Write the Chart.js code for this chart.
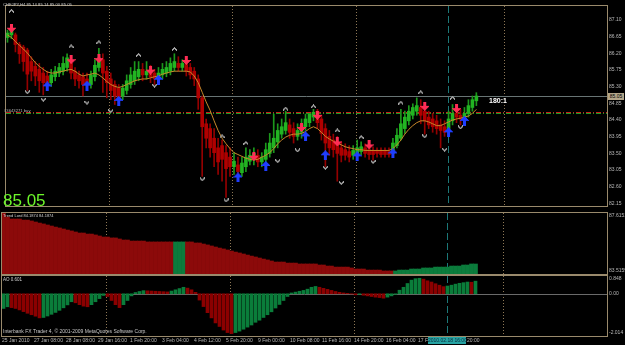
<!DOCTYPE html>
<html><head><meta charset="utf-8">
<script src="https://cdn.jsdelivr.net/npm/chart.js@4.4.1/dist/chart.umd.min.js"></script>
<style>
html,body{margin:0;padding:0;background:#000;width:625px;height:345px;overflow:hidden;}
canvas{position:absolute;left:0;}
.t{position:absolute;white-space:nowrap;font-family:"Liberation Sans",Arial,sans-serif;line-height:1;}
</style></head><body>
<canvas id="main" width="625" height="212" style="top:0"></canvas>
<canvas id="trend" width="625" height="63" style="top:212px"></canvas>
<canvas id="ao" width="625" height="70" style="top:275px"></canvas>

<div class="t" style="left:3px;top:3px;font-size:4.2px;color:#d0d0d0">CHFJPY,H4 85.14 85.14 85.00 85.05</div>
<div class="t" style="left:4px;top:109px;font-size:4.2px;color:#b0b0b0">#3643271 buy</div>
<div class="t" style="left:3px;top:192px;font-size:17px;color:#6cf52a">85.05</div>
<div class="t" style="left:489px;top:97px;font-size:7px;font-weight:bold;color:#ffffff">180:1</div>
<div class="t" style="left:608px;top:93px;width:16px;height:7px;font-size:5px;line-height:7px;background:#b4a68a;color:#000;text-align:center">85.05</div>
<div class="t" style="left:3px;top:214px;font-size:4px;color:#d0d0d0">Trend Lord 84.1874 84.1874</div>
<div class="t" style="left:3px;top:277.5px;font-size:4.5px;color:#d0d0d0">AO 0.601</div>
<div class="t" style="left:3px;top:328.5px;font-size:5px;color:#c8c8c8">Interbank FX Trader 4, © 2001-2009 MetaQuotes Software Corp.</div>
<div class="t" style="left:428px;top:337px;width:38px;height:7px;font-size:5px;line-height:7px;background:#26a3a3;color:#0a2a3a;text-align:center">2010.02.18 16:00</div>

<script>
// ---------------- DATA ----------------
const priceOpen = [
86.63,86.70,86.70,86.44,86.37,86.29,85.98,85.85,85.77,85.67,
85.59,85.41,85.57,85.67,85.72,85.82,85.93,85.72,85.62,85.57,
85.51,85.36,85.57,85.82,86.03,85.72,85.51,85.36,85.26,85.05,
85.20,85.36,85.46,85.57,85.77,85.62,85.72,85.67,85.57,85.62,
85.67,85.72,85.82,85.93,85.82,85.90,85.82,85.72,85.51,85.00,
84.30,84.17,83.91,83.65,83.71,83.52,83.40,83.14,83.19,82.98,
83.14,83.29,83.34,83.45,83.27,83.34,83.50,83.65,83.81,84.02,
84.12,84.27,84.17,83.96,84.07,84.22,84.33,84.48,84.64,84.43,
84.17,83.96,83.86,83.76,83.65,83.60,83.55,83.45,83.50,83.55,
83.65,83.60,83.58,83.58,83.58,83.58,83.55,83.50,83.71,83.91,
84.17,84.38,84.53,84.64,84.74,84.64,84.48,84.43,84.38,84.27,
84.22,84.17,84.38,84.58,84.53,84.43,84.58,84.74,84.92];
const priceHigh = [
86.83,86.88,86.75,86.50,86.42,86.34,86.11,85.98,85.93,85.82,
85.72,85.77,85.85,85.93,86.11,86.19,86.03,85.82,85.72,85.67,
85.67,85.72,86.03,86.34,86.19,85.85,85.67,85.46,85.36,85.36,
85.62,85.82,85.98,85.98,85.93,85.98,85.88,85.77,85.82,85.93,
85.98,86.08,86.19,86.11,86.03,85.98,85.93,85.82,85.62,85.05,
84.43,84.30,84.17,83.91,83.86,83.71,83.65,83.52,83.40,83.40,
83.65,83.60,83.65,83.60,83.52,83.78,84.04,84.56,84.30,84.43,
84.64,84.43,84.33,84.30,84.43,84.56,84.58,84.69,84.69,84.53,
84.30,84.12,84.02,83.96,83.81,83.76,83.71,83.71,83.86,83.81,
83.76,83.71,83.68,83.65,83.65,83.65,83.65,83.91,84.17,84.69,
84.64,84.79,84.84,85.00,84.95,84.79,84.64,84.58,84.53,84.43,
84.38,84.64,84.82,84.74,84.69,84.74,84.95,85.05,85.14];
const priceLow = [
86.50,86.60,86.24,85.93,85.72,85.20,85.46,85.33,85.15,85.08,
85.20,85.31,85.46,85.57,85.62,85.72,85.51,85.33,85.26,85.05,
85.26,85.26,85.46,85.72,85.15,85.00,84.95,84.82,84.84,84.95,
85.10,85.26,85.36,85.46,85.46,85.51,85.41,85.36,85.46,85.51,
85.57,85.62,85.72,85.72,85.72,85.59,85.51,85.33,84.69,82.88,
83.65,83.40,83.14,82.93,82.75,82.31,82.88,82.93,82.83,82.88,
83.01,83.19,83.19,83.14,83.14,83.19,83.40,83.52,83.65,83.91,
84.02,83.91,83.78,83.86,83.91,84.12,84.22,84.38,84.17,83.86,
83.14,83.45,83.40,82.75,83.27,83.32,83.27,83.34,83.45,83.45,
83.40,83.34,83.32,83.40,83.40,83.40,83.40,83.45,83.65,83.86,
84.04,84.27,84.43,84.53,84.30,84.02,84.17,84.07,84.02,83.65,
83.96,84.07,84.27,84.33,84.27,84.33,84.48,84.64,84.79];
const priceClose = [
86.75,86.81,86.44,86.19,85.98,85.64,85.72,85.59,85.46,85.41,
85.36,85.62,85.72,85.82,85.93,86.08,85.67,85.51,85.46,85.36,
85.36,85.62,85.88,86.08,85.67,85.41,85.20,85.05,85.00,85.26,
85.46,85.62,85.72,85.77,85.62,85.72,85.57,85.51,85.67,85.77,
85.82,85.93,85.98,85.82,85.93,85.72,85.62,85.51,85.00,84.22,
83.91,83.65,83.52,83.27,83.34,83.09,83.14,83.29,83.01,83.24,
83.40,83.45,83.50,83.27,83.40,83.60,83.78,83.91,84.12,84.22,
84.33,84.07,83.96,84.12,84.27,84.43,84.56,84.61,84.33,84.04,
83.78,83.65,83.60,83.50,83.45,83.45,83.40,83.58,83.65,83.68,
83.50,83.47,83.47,83.50,83.47,83.47,83.47,83.78,83.99,84.30,
84.48,84.64,84.74,84.79,84.53,84.38,84.27,84.22,84.17,84.12,
84.07,84.43,84.58,84.48,84.43,84.58,84.79,84.95,85.05];
const maValues = [
86.70,86.63,86.52,86.42,86.32,86.21,86.08,85.95,85.85,85.77,
85.70,85.67,85.67,85.70,85.72,85.75,85.77,85.72,85.64,85.59,
85.62,85.64,85.67,85.62,85.54,85.44,85.36,85.31,85.28,85.31,
85.36,85.41,85.46,85.49,85.51,85.51,85.54,85.57,85.59,85.64,
85.67,85.70,85.72,85.72,85.72,85.72,85.70,85.59,85.41,85.15,
84.89,84.66,84.38,84.12,83.91,83.76,83.63,83.52,83.47,83.42,
83.37,83.34,83.32,83.34,83.40,83.45,83.52,83.63,83.76,83.86,
83.94,83.99,84.02,84.02,84.04,84.09,84.17,84.22,84.17,84.07,
83.96,83.89,83.83,83.78,83.73,83.68,83.65,83.63,83.60,83.60,
83.58,83.58,83.58,83.58,83.58,83.58,83.58,83.63,83.73,83.86,
84.02,84.15,84.25,84.33,84.38,84.38,84.35,84.30,84.25,84.25,
84.30,84.35,84.40,84.43,84.45,84.48,84.51,84.58,84.69];
const downArrowBars   = [1,16,23,36,45,62,74,78,83,91,105,113];
const downArrowPrices = [86.88,86.03,86.06,85.75,86.01,83.42,84.20,84.53,83.81,83.73,84.77,84.71];
const upArrowBars     = [10,20,28,38,58,65,75,80,88,97,111,115];
const upArrowPrices   = [85.31,85.33,84.92,85.49,82.85,83.16,83.96,83.45,83.42,83.50,84.07,84.38];
const fractalUpBars   = [1,16,23,33,42,54,60,70,77,83,89,99,104,112];
const fractalUpPrices = [87.35,86.39,86.50,86.16,86.32,83.96,83.78,84.71,84.77,84.12,83.94,84.87,85.15,85.00];
const fractalDnBars   = [5,9,20,26,37,49,55,68,73,80,84,92,105,110,114];
const fractalDnPrices = [85.15,84.95,84.87,84.64,85.33,82.80,82.23,83.29,83.58,83.11,82.70,83.27,83.96,83.60,84.20];
const bidPrice = 85.05;
const orderLineRed = 84.63;
const orderLineGreen = 84.58;
const priceTicks = [87.10,86.65,86.20,85.75,85.30,84.85,84.40,83.95,83.50,83.05,82.60,82.15];
const priceMin = 82.08, priceMax = 87.48;

const trendValues = [
87.60,87.35,87.21,87.21,87.21,87.14,87.14,87.08,87.01,86.94,
86.88,86.81,86.74,86.67,86.61,86.54,86.47,86.41,86.34,86.27,
86.27,86.20,86.20,86.14,86.07,86.00,86.00,85.94,85.94,85.87,
85.80,85.80,85.73,85.73,85.73,85.73,85.67,85.67,85.67,85.67,
85.67,85.67,85.67,85.67,85.67,85.67,85.67,85.67,85.60,85.60,
85.53,85.47,85.40,85.33,85.26,85.20,85.13,85.06,84.99,84.93,
84.86,84.79,84.72,84.66,84.59,84.52,84.46,84.39,84.32,84.32,
84.32,84.25,84.25,84.25,84.19,84.19,84.19,84.19,84.19,84.12,
84.12,84.05,84.05,83.98,83.98,83.98,83.98,83.92,83.85,83.85,
83.85,83.78,83.78,83.78,83.78,83.72,83.72,83.72,83.72,83.78,
83.78,83.78,83.85,83.85,83.85,83.92,83.92,83.92,83.98,83.98,
83.98,83.98,84.05,84.05,84.05,84.12,84.12,84.19,84.1874];
const trendUpBars = [43,44,45,98,99,100,101,102,103,104,105,106,107,108,109,110,111,112,113,114,115,116,117,118];
const trendMax = 87.6151, trendMin = 83.5159;

const aoValues = [
-0.70,-0.62,-0.66,-0.70,-0.77,-0.85,-0.93,-1.00,-1.07,-1.15,
-1.13,-1.06,-0.98,-0.89,-0.79,-0.67,-0.53,-0.38,-0.43,-0.52,
-0.59,-0.62,-0.52,-0.38,-0.23,-0.08,-0.13,-0.32,-0.52,-0.66,
-0.52,-0.32,-0.10,0.06,0.11,0.15,0.14,0.13,0.12,0.11,
0.10,0.09,0.13,0.19,0.25,0.31,0.27,0.19,0.07,-0.30,
-0.61,-0.90,-1.15,-1.39,-1.56,-1.73,-1.85,-1.90,-1.85,-1.78,
-1.69,-1.59,-1.49,-1.36,-1.26,-1.13,-1.00,-0.86,-0.68,-0.51,
-0.32,-0.13,0.04,0.08,0.12,0.16,0.22,0.31,0.35,0.31,
0.26,0.21,0.16,0.11,0.07,0.04,0.02,-0.01,-0.05,-0.03,
-0.07,-0.10,-0.13,-0.16,-0.18,-0.21,-0.16,-0.10,-0.03,0.17,
0.31,0.49,0.65,0.72,0.74,0.70,0.62,0.56,0.48,0.41,
0.34,0.37,0.41,0.46,0.50,0.53,0.56,0.55,0.601];
const aoMax = 0.848, aoMin = -2.014;

const timeLabels = ["25 Jan 2010","27 Jan 08:00","28 Jan 08:00","29 Jan 16:00","1 Feb 20:00","3 Feb 04:00","4 Feb 12:00","5 Feb 20:00","9 Feb 00:00","10 Feb 08:00","11 Feb 16:00","14 Feb 20:00","16 Feb 04:00","17 Feb 12:00","18 Feb 20:00"];
const timeLabelBars = [0,8,16,24,32,40,48,56,64,72,80,88,96,104,112];
const separatorBars = [25.6,56.6,87.6,124.9];
const cursorBar = 110.9;

// ---------------- SETUP ----------------
const N = priceOpen.length;
[priceHigh,priceLow,priceClose,maValues,trendValues,aoValues].forEach((a,k)=>{
  if (a.length !== N) throw new Error('length mismatch in array ' + k + ': ' + a.length + ' vs ' + N);
});
const xMin = -0.375, xMax = 150.875;
const fontFam = "'Liberation Sans', Arial, sans-serif";
const axisColor = '#b8b8b8';
const frameColor = '#9a8a6c';
const idx = priceOpen.map((_, i) => i);

function sprite(rows, color) {
  const c = document.createElement('canvas');
  c.width = rows[0].length; c.height = rows.length;
  const g = c.getContext('2d'); g.fillStyle = color;
  rows.forEach((r, y) => { for (let x = 0; x < r.length; x++) if (r[x] === '#') g.fillRect(x, y, 1, 1); });
  return c;
}
const downArrowImg = sprite(['...###...','...###...','...###...','...###...','#########','.#######.','..#####..','...###...','....#....'], '#ff2d55');
const upArrowImg = sprite(['....#....','...###...','..#####..','.#######.','#########','...###...','...###...','...###...','...###...','...###...'], '#1f3dff');
const fracUpImg = sprite(['..#..','.###.','##.##','#...#'], '#a4a4a4');
const fracDnImg = sprite(['#...#','##.##','.###.','..#..'], '#a4a4a4');

const mt4Plugin = {
  id: 'mt4',
  beforeDatasetsDraw(chart, args, opts) {
    const {ctx, chartArea: a, scales} = chart;
    ctx.save();
    ctx.beginPath(); ctx.rect(a.left, a.top, a.right - a.left, a.bottom - a.top); ctx.clip();
    ctx.lineWidth = 1;
    const vl = separatorBars.map(b => ({bar: b, color: '#8e7856', dash: [1, 2]}));
    vl.push({bar: cursorBar, color: '#1c7878', dash: [7, 3]});
    vl.forEach(v => {
      const x = Math.round(scales.x.getPixelForValue(v.bar)) + 0.5;
      ctx.strokeStyle = v.color; ctx.setLineDash(v.dash);
      ctx.beginPath(); ctx.moveTo(x, a.top); ctx.lineTo(x, a.bottom); ctx.stroke();
    });
    (opts.hlines || []).forEach(h => {
      const y = Math.round(scales.y.getPixelForValue(h.value)) + 0.5;
      ctx.strokeStyle = h.color; ctx.setLineDash(h.dash);
      ctx.beginPath(); ctx.moveTo(a.left, y); ctx.lineTo(a.right, y); ctx.stroke();
    });
    ctx.restore();
  },
  afterDraw(chart) {
    const {ctx, chartArea: a} = chart;
    ctx.save();
    ctx.strokeStyle = frameColor; ctx.lineWidth = 1; ctx.setLineDash([]);
    ctx.strokeRect(a.left - 0.5, a.top - 0.5, a.right - a.left + 1, a.bottom - a.top + 1);
    ctx.restore();
  }
};

function yAxis(min, max, ticks, cb) {
  return {
    type: 'linear', position: 'right', min, max,
    grid: {display: false, drawTicks: false}, border: {display: false},
    ticks: {color: axisColor, font: {size: 5, family: fontFam}, padding: 2, autoSkip: false, callback: cb},
    afterBuildTicks: ax => { ax.ticks = ticks.map(v => ({value: v})); },
    afterFit: ax => { ax.width = 18; ax.paddingTop = 0; ax.paddingBottom = 0; }
  };
}
const baseOpts = {responsive: false, animation: false, events: [], maintainAspectRatio: false};
const hiddenX = {type: 'linear', display: false, min: xMin, max: xMax, offset: false};

// ---------------- MAIN CHART ----------------
const isUp = idx.map(i => priceClose[i] >= priceOpen[i]);
new Chart(document.getElementById('main'), {
  type: 'bar',
  data: {datasets: [
    {type: 'scatter', data: downArrowBars.map((b, k) => ({x: b, y: downArrowPrices[k]})), pointStyle: downArrowImg, pointRadius: 5, order: 0},
    {type: 'scatter', data: upArrowBars.map((b, k) => ({x: b, y: upArrowPrices[k]})), pointStyle: upArrowImg, pointRadius: 5, order: 0},
    {type: 'scatter', data: fractalUpBars.map((b, k) => ({x: b, y: fractalUpPrices[k]})), pointStyle: fracUpImg, pointRadius: 3, order: 1},
    {type: 'scatter', data: fractalDnBars.map((b, k) => ({x: b, y: fractalDnPrices[k]})), pointStyle: fracDnImg, pointRadius: 3, order: 1},
    {type: 'line', data: idx.map(i => ({x: i, y: maValues[i]})), borderColor: '#c8882a', borderWidth: 1, pointRadius: 0, tension: 0, order: 2},
    {type: 'bar', data: idx.map(i => ({x: i, y: [priceOpen[i], priceClose[i]]})), backgroundColor: isUp.map(u => u ? '#22b422' : '#b00000'), barThickness: 3, grouped: false, minBarLength: 1, order: 3},
    {type: 'bar', data: idx.map(i => ({x: i, y: [priceLow[i], priceHigh[i]]})), backgroundColor: isUp.map(u => u ? '#1c981c' : '#940000'), barThickness: 1, grouped: false, order: 4}
  ]},
  options: Object.assign({}, baseOpts, {
    layout: {padding: {left: 2, top: 2, right: 0, bottom: 1}},
    plugins: {legend: {display: false}, tooltip: {enabled: false},
      mt4: {hlines: [
        {value: bidPrice, color: '#687474', dash: []},
        {value: orderLineRed, color: '#c81e1e', dash: [5, 2, 1, 2]},
        {value: orderLineGreen, color: '#1ea01e', dash: [5, 2, 1, 2]}
      ]}},
    scales: {x: hiddenX, y: yAxis(priceMin, priceMax, priceTicks, v => v.toFixed(2))}
  }),
  plugins: [mt4Plugin]
});

// ---------------- TREND LORD ----------------
new Chart(document.getElementById('trend'), {
  type: 'bar',
  data: {datasets: [
    {type: 'bar', data: idx.map(i => ({x: i, y: [trendMin, trendValues[i]]})),
     backgroundColor: idx.map(i => trendUpBars.includes(i) ? '#0b7c3c' : '#8c0a0a'),
     barThickness: 4, grouped: false}
  ]},
  options: Object.assign({}, baseOpts, {
    layout: {padding: {left: 2, top: 1, right: 0, bottom: 1}},
    plugins: {legend: {display: false}, tooltip: {enabled: false}, mt4: {hlines: []}},
    scales: {x: hiddenX, y: yAxis(trendMin, trendMax, [trendMax, trendMin],
      v => v === trendMax ? ['', v.toFixed(4)] : [v.toFixed(4), ''])}
  }),
  plugins: [mt4Plugin]
});

// ---------------- AO ----------------
const aoColors = aoValues.map((v, i) => (i === 0 || v > aoValues[i - 1]) ? '#0a7d3a' : '#8b0000');
new Chart(document.getElementById('ao'), {
  type: 'bar',
  data: {datasets: [
    {type: 'bar', data: idx.map(i => ({x: i, y: aoValues[i]})), backgroundColor: aoColors, barThickness: 3, grouped: false}
  ]},
  options: Object.assign({}, baseOpts, {
    layout: {padding: {left: 2, top: 1, right: 0, bottom: 0}},
    plugins: {legend: {display: false}, tooltip: {enabled: false},
      mt4: {hlines: [{value: 0, color: '#6a6a6a', dash: []}]}},
    scales: {
      x: {type: 'linear', position: 'bottom', min: xMin, max: xMax, offset: false,
        grid: {display: false, drawTicks: false}, border: {display: false},
        ticks: {color: axisColor, font: {size: 5, family: fontFam}, padding: 2, align: 'start', autoSkip: false,
          maxRotation: 0, minRotation: 0, labelOffset: -1.5, callback: (v, i) => timeLabels[i]},
        afterBuildTicks: ax => { ax.ticks = timeLabelBars.map(v => ({value: v})); },
        afterFit: ax => { ax.height = 9; ax.paddingLeft = 0; ax.paddingRight = 0; }},
      y: yAxis(aoMin, aoMax, [aoMax, 0, aoMin],
        v => v === aoMax ? ['', '0.848'] : (v === aoMin ? ['-2.014', ''] : '0.00'))
    }
  }),
  plugins: [mt4Plugin]
});
</script>
</body></html>
